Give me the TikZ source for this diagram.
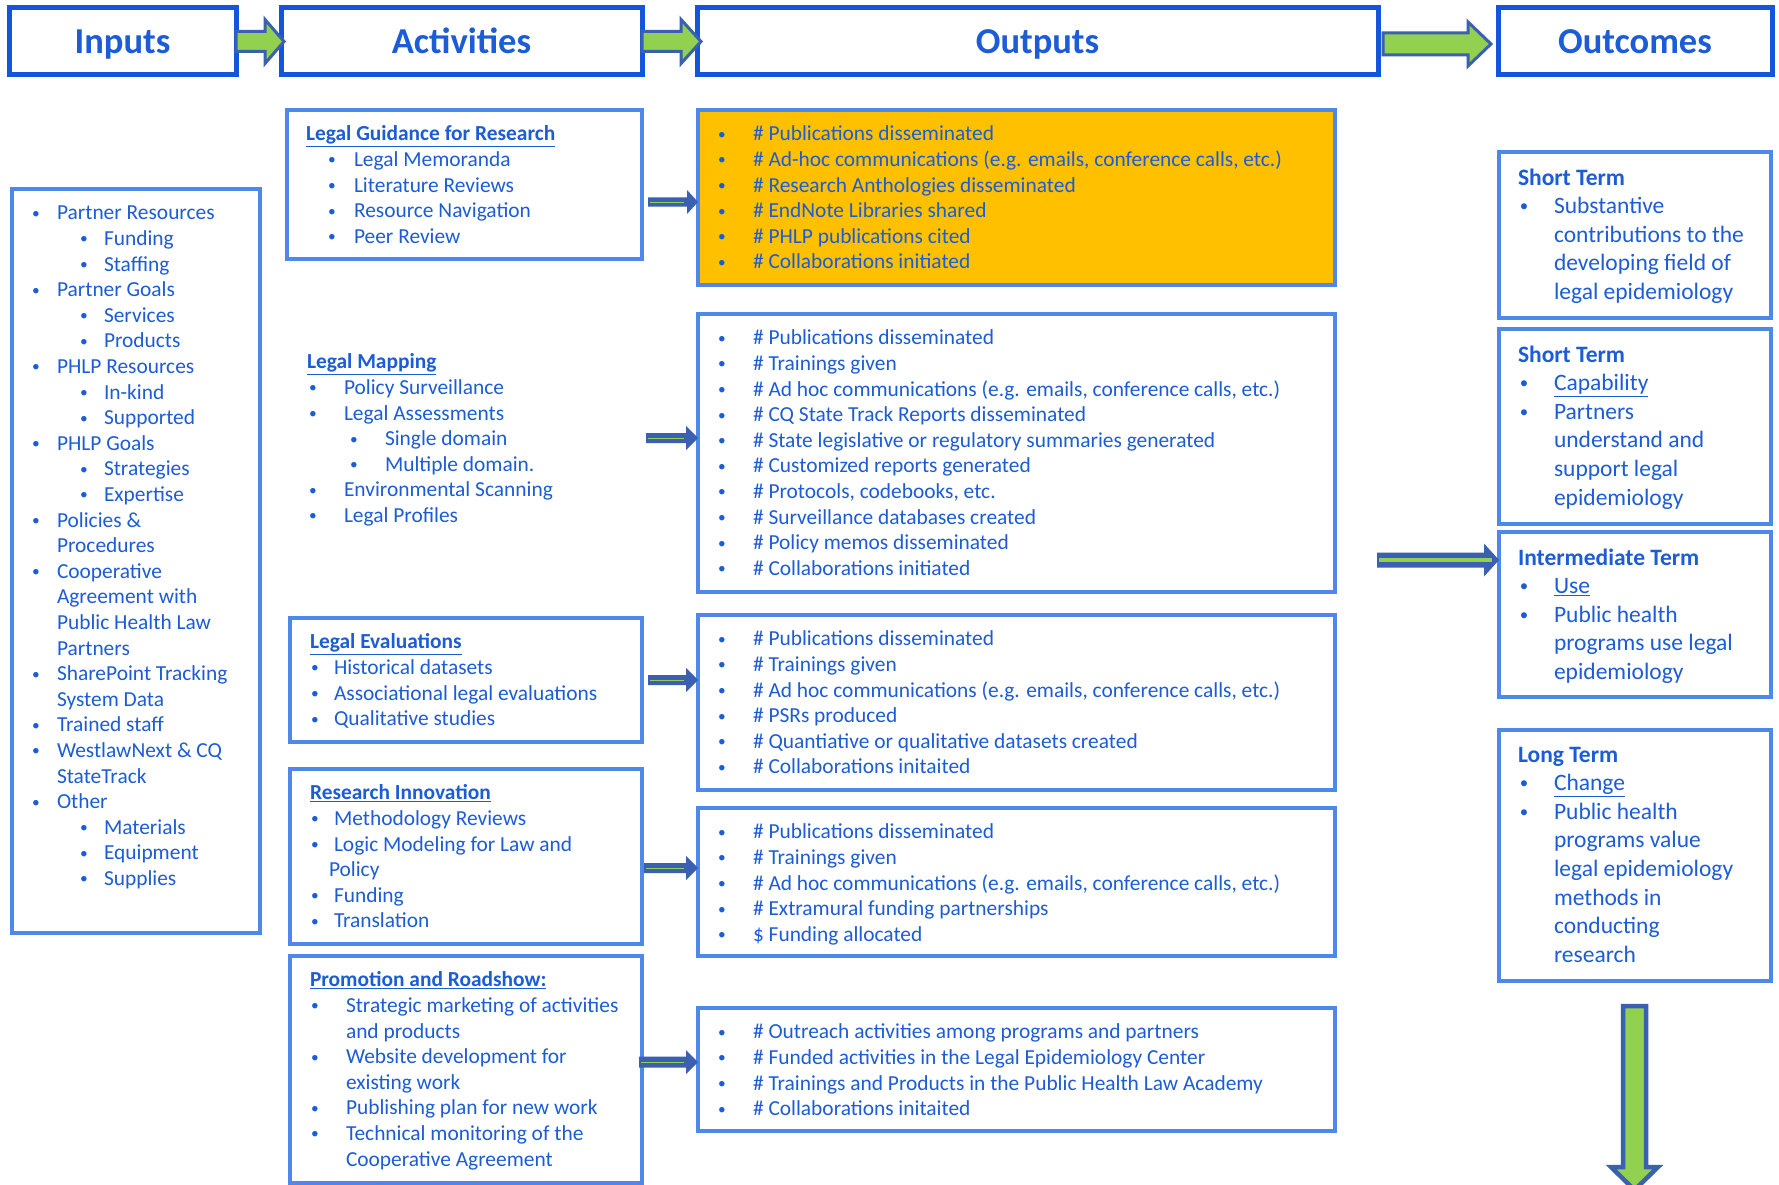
\documentclass[tikz,border=0pt]{standalone}
\usepackage{fontspec}
\setmainfont{Carlito}
\usetikzlibrary{calc}
\definecolor{txtblue}{RGB}{28,92,214}
\definecolor{hdrblue}{RGB}{20,86,218}
\definecolor{boxblue}{RGB}{78,136,234}
\definecolor{arrblue}{RGB}{59,96,178}
\definecolor{agreen}{RGB}{146,208,80}
\definecolor{orangefill}{RGB}{255,192,0}
\newcommand\bul{\raisebox{0.08em}{\scalebox{0.72}{•}}}
\newcommand\BL[3]{\hspace*{#1}\makebox[0pt]{\bul}\hspace*{\dimexpr#2-#1\relax}#3\strut}
\newcommand\CL[2]{\hspace*{#1}#2\strut}
\newcommand\TL[1]{\textbf{\underline{#1}}\strut}
\newcommand\OT[1]{\textbf{#1}\strut}
\newcommand\rarrow[6]{\path[#1] let \p1=(#2), \p2=(#3) in (\x1,\y1+#4) -- (\x2-#6,\y1+#4) -- (\x2-#6,\y1+#5) -- (\x2,\y1) -- (\x2-#6,\y1-#5) -- (\x2-#6,\y1-#4) -- (\x1,\y1-#4) -- cycle;}
\begin{document}
\begin{tikzpicture}[x=1pt,y=-1pt,
 body/.style={text=txtblue, align=left, anchor=north west, inner sep=0pt, outer sep=0pt, font=\fontsize{21.4}{25.6}\selectfont},
 obody/.style={body, font=\fontsize{23.5}{28.6}\selectfont},
 cbox/.style={draw=boxblue, line width=3.5pt, anchor=north west, inner sep=0pt, outer sep=0pt},
 hbox/.style={draw=hdrblue, line width=5pt, fill=white, inner sep=0pt, outer sep=0pt, text=txtblue, text height=24pt, text depth=0pt, font=\fontsize{36.5}{40}\selectfont\bfseries},
 fatarrow/.style={fill=agreen, draw=arrblue, line width=3pt, line join=miter},
 slimarrow/.style={fill=arrblue},
 stripe/.style={draw=agreen, line width=0.8pt}]
\useasboundingbox (0,0) rectangle (1779,1185);
\fill[white] (0,0) rectangle (1779,1185);

% headers
\node[hbox, minimum width=227pt, minimum height=67pt] (inh) at (122.5,41.5) {Inputs};
\node[hbox, minimum width=361pt, minimum height=67pt] (acth) at (461.5,41.5) {Activities};
\node[hbox, minimum width=681pt, minimum height=67pt] (outh) at (1037.5,41.5) {Outputs};
\node[hbox, minimum width=274pt, minimum height=67pt] (och) at (1635,41.5) {Outcomes};

% content boxes
\node[cbox, minimum width=248pt, minimum height=744pt] (inbox) at (12,189) {};
\node[cbox, minimum width=355pt, minimum height=149pt] (act1) at (287,110) {};
\node[cbox, minimum width=352pt, minimum height=124pt] (act3) at (290,618) {};
\node[cbox, minimum width=352pt, minimum height=175pt] (act4) at (290,769) {};
\node[cbox, minimum width=352pt, minimum height=227pt] (act5) at (290,956) {};
\node[cbox, fill=orangefill, minimum width=637pt, minimum height=175pt] (out1) at (698,110) {};
\node[cbox, minimum width=637pt, minimum height=278pt] (out2) at (698,314) {};
\node[cbox, minimum width=637pt, minimum height=175pt] (out3) at (698,615) {};
\node[cbox, minimum width=637pt, minimum height=148pt] (out4) at (698,808) {};
\node[cbox, minimum width=637pt, minimum height=123pt] (out5) at (698,1008) {};
\node[cbox, minimum width=272pt, minimum height=166pt] (oc1) at (1499,152) {};
\node[cbox, minimum width=272pt, minimum height=195pt] (oc2) at (1499,329) {};
\node[cbox, minimum width=272pt, minimum height=165pt] (oc3) at (1499,532) {};
\node[cbox, minimum width=272pt, minimum height=251pt] (oc4) at (1499,730) {};

% inputs text
\node[body] (intx) at (20,202) {%
\BL{16pt}{37pt}{Partner Resources}\\
\BL{64pt}{84pt}{Funding}\\
\BL{64pt}{84pt}{Staffing}\\
\BL{16pt}{37pt}{Partner Goals}\\
\BL{64pt}{84pt}{Services}\\
\BL{64pt}{84pt}{Products}\\
\BL{16pt}{37pt}{PHLP Resources}\\
\BL{64pt}{84pt}{In-kind}\\
\BL{64pt}{84pt}{Supported}\\
\BL{16pt}{37pt}{PHLP Goals}\\
\BL{64pt}{84pt}{Strategies}\\
\BL{64pt}{84pt}{Expertise}\\
\BL{16pt}{37pt}{Policies \&}\\
\CL{37pt}{Procedures}\\
\BL{16pt}{37pt}{Cooperative}\\
\CL{37pt}{Agreement with}\\
\CL{37pt}{Public Health Law}\\
\CL{37pt}{Partners}\\
\BL{16pt}{37pt}{SharePoint Tracking}\\
\CL{37pt}{System Data}\\
\BL{16pt}{37pt}{Trained staff}\\
\BL{16pt}{37pt}{WestlawNext \& CQ}\\
\CL{37pt}{StateTrack}\\
\BL{16pt}{37pt}{Other}\\
\BL{64pt}{84pt}{Materials}\\
\BL{64pt}{84pt}{Equipment}\\
\BL{64pt}{84pt}{Supplies}};

% activities text
\node[body] (act1tx) at (306,123) {%
\TL{Legal Guidance for Research}\\
\BL{26pt}{48pt}{Legal Memoranda}\\
\BL{26pt}{48pt}{Literature Reviews}\\
\BL{26pt}{48pt}{Resource Navigation}\\
\BL{26pt}{48pt}{Peer Review}};
\node[body] (act2tx) at (307,351) {%
\TL{Legal Mapping}\\
\BL{6pt}{37pt}{Policy Surveillance}\\
\BL{6pt}{37pt}{Legal Assessments}\\
\BL{47pt}{78pt}{Single domain}\\
\BL{47pt}{78pt}{Multiple domain.}\\
\BL{6pt}{37pt}{Environmental Scanning}\\
\BL{6pt}{37pt}{Legal Profiles}};
\node[body] (act3tx) at (310,631) {%
\TL{Legal Evaluations}\\
\BL{5pt}{24pt}{Historical datasets}\\
\BL{5pt}{24pt}{Associational legal evaluations}\\
\BL{5pt}{24pt}{Qualitative studies}};
\node[body] (act4tx) at (310,782) {%
\TL{Research Innovation}\\
\BL{5pt}{24pt}{Methodology Reviews}\\
\BL{5pt}{24pt}{Logic Modeling for Law and}\\
\CL{19pt}{Policy}\\
\BL{5pt}{24pt}{Funding}\\
\BL{5pt}{24pt}{Translation}};
\node[body] (act5tx) at (310,969) {%
\TL{Promotion and Roadshow:}\\
\BL{5pt}{36pt}{Strategic marketing of activities}\\
\CL{36pt}{and products}\\
\BL{5pt}{36pt}{Website development for}\\
\CL{36pt}{existing work}\\
\BL{5pt}{36pt}{Publishing plan for new work}\\
\BL{5pt}{36pt}{Technical monitoring of the}\\
\CL{36pt}{Cooperative Agreement}};

% outputs text
\node[body] (out1tx) at (715,123) {%
\BL{7pt}{38pt}{\# Publications disseminated}\\
\BL{7pt}{38pt}{\# Ad-hoc communications (e.g. emails, conference calls, etc.)}\\
\BL{7pt}{38pt}{\# Research Anthologies disseminated}\\
\BL{7pt}{38pt}{\# EndNote Libraries shared}\\
\BL{7pt}{38pt}{\# PHLP publications cited}\\
\BL{7pt}{38pt}{\# Collaborations initiated}};
\node[body] (out2tx) at (715,327) {%
\BL{7pt}{38pt}{\# Publications disseminated}\\
\BL{7pt}{38pt}{\# Trainings given}\\
\BL{7pt}{38pt}{\# Ad hoc communications (e.g. emails, conference calls, etc.)}\\
\BL{7pt}{38pt}{\# CQ State Track Reports disseminated}\\
\BL{7pt}{38pt}{\# State legislative or regulatory summaries generated}\\
\BL{7pt}{38pt}{\# Customized reports generated}\\
\BL{7pt}{38pt}{\# Protocols, codebooks, etc.}\\
\BL{7pt}{38pt}{\# Surveillance databases created}\\
\BL{7pt}{38pt}{\# Policy memos disseminated}\\
\BL{7pt}{38pt}{\# Collaborations initiated}};
\node[body] (out3tx) at (715,628) {%
\BL{7pt}{38pt}{\# Publications disseminated}\\
\BL{7pt}{38pt}{\# Trainings given}\\
\BL{7pt}{38pt}{\# Ad hoc communications (e.g. emails, conference calls, etc.)}\\
\BL{7pt}{38pt}{\# PSRs produced}\\
\BL{7pt}{38pt}{\# Quantiative or qualitative datasets created}\\
\BL{7pt}{38pt}{\# Collaborations initaited}};
\node[body] (out4tx) at (715,821) {%
\BL{7pt}{38pt}{\# Publications disseminated}\\
\BL{7pt}{38pt}{\# Trainings given}\\
\BL{7pt}{38pt}{\# Ad hoc communications (e.g. emails, conference calls, etc.)}\\
\BL{7pt}{38pt}{\# Extramural funding partnerships}\\
\BL{7pt}{38pt}{\$ Funding allocated}};
\node[body] (out5tx) at (715,1021) {%
\BL{7pt}{38pt}{\# Outreach activities among programs and partners}\\
\BL{7pt}{38pt}{\# Funded activities in the Legal Epidemiology Center}\\
\BL{7pt}{38pt}{\# Trainings and Products in the Public Health Law Academy}\\
\BL{7pt}{38pt}{\# Collaborations initaited}};

% outcomes text
\node[obody] (oc1tx) at (1518,165) {%
\OT{Short Term}\\
\BL{6pt}{36pt}{Substantive}\\
\CL{36pt}{contributions to the}\\
\CL{36pt}{developing field of}\\
\CL{36pt}{legal epidemiology}};
\node[obody] (oc2tx) at (1518,342) {%
\OT{Short Term}\\
\BL{6pt}{36pt}{\underline{Capability}}\\
\BL{6pt}{36pt}{Partners}\\
\CL{36pt}{understand and}\\
\CL{36pt}{support legal}\\
\CL{36pt}{epidemiology}};
\node[obody] (oc3tx) at (1518,545) {%
\OT{Intermediate Term}\\
\BL{6pt}{36pt}{\underline{Use}}\\
\BL{6pt}{36pt}{Public health}\\
\CL{36pt}{programs use legal}\\
\CL{36pt}{epidemiology}};
\node[obody] (oc4tx) at (1518,742) {%
\OT{Long Term}\\
\BL{6pt}{36pt}{\underline{Change}}\\
\BL{6pt}{36pt}{Public health}\\
\CL{36pt}{programs value}\\
\CL{36pt}{legal epidemiology}\\
\CL{36pt}{methods in}\\
\CL{36pt}{conducting}\\
\CL{36pt}{research}};

% header arrows
\rarrow{fatarrow}{inh.east}{$(acth.west)+(3,0)$}{10pt}{22pt}{19pt}
\rarrow{fatarrow}{acth.east}{$(outh.west)+(4,0)$}{10pt}{22pt}{20pt}
\rarrow{fatarrow}{$(outh.east)+(5,2.5)$}{$(och.west)+(-7,0)$}{11pt}{22pt}{23pt}

% activity -> output arrows
\coordinate (a1) at (648,202);
\coordinate (a2) at (646,438);
\coordinate (a3) at (648,680);
\coordinate (a4) at (644,868);
\coordinate (a5) at (639,1062);
\rarrow{slimarrow}{a1}{out1.west}{4.5pt}{12pt}{11pt}
\rarrow{slimarrow}{a2}{out2.west}{5pt}{12pt}{12pt}
\rarrow{slimarrow}{a3}{out3.west}{5pt}{12pt}{12pt}
\rarrow{slimarrow}{a4}{out4.west}{5pt}{12pt}{12pt}
\rarrow{slimarrow}{a5}{out5.west}{5.5pt}{12pt}{12pt}
\foreach \s/\t in {a1/out1,a2/out2,a3/out3,a4/out4,a5/out5}{
  \draw[stripe] let \p1=(\s), \p2=(\t.west) in (\x1+2pt,\y1) -- (\x2-14pt,\y1);
}

% output -> outcome arrow
\coordinate (a6) at (1377,560);
\rarrow{slimarrow}{a6}{oc3.west}{7.5pt}{16.5pt}{15pt}
\draw[agreen, line width=4pt] let \p1=(a6), \p2=(oc3.west) in (\x1+2pt,\y1) -- (\x2-7pt,\y1);

% down arrow
\coordinate (d0) at (1634.5,1006);
\coordinate (d1) at (1634.5,1190);
\path[fatarrow, line width=4.5pt] let \p1=(d0), \p2=(d1) in
  (\x1-11.5pt,\y1) -- (\x1+11.5pt,\y1) -- (\x1+11.5pt,\y2+23pt) -- (\x1+23.5pt,\y2+23pt)
  -- (\x1,\y2) -- (\x1-23.5pt,\y2+23pt) -- (\x1-11.5pt,\y2+23pt) -- cycle;
\end{tikzpicture}
\end{document}
